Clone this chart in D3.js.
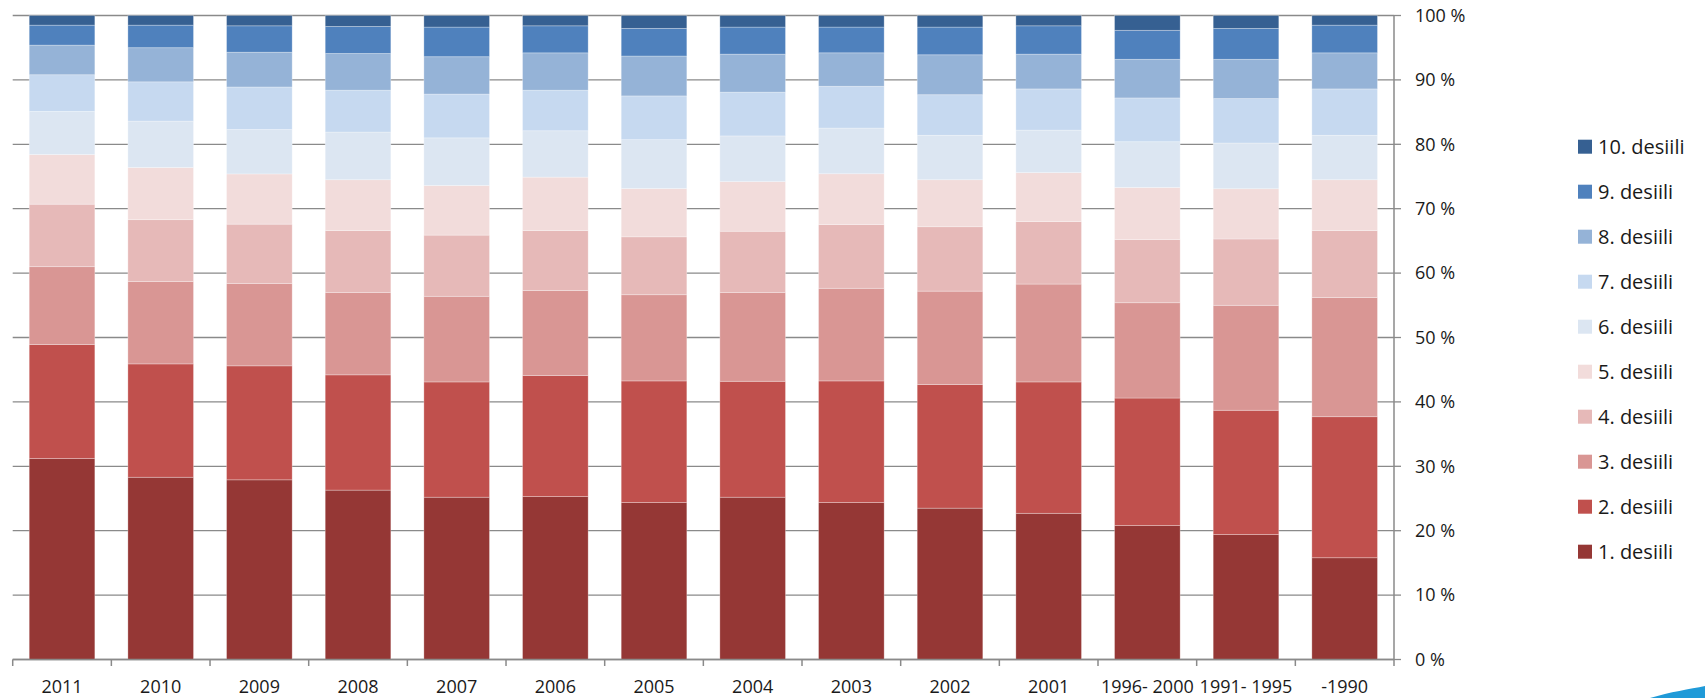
<!DOCTYPE html>
<html>
<head>
<meta charset="utf-8">
<script src="https://cdn.jsdelivr.net/npm/d3@7/dist/d3.min.js"></script>
<style>
  body { margin: 0; background: #fff; }
  text { font-family: "Open Sans", sans-serif; fill: #1a1a1a; }
</style>
</head>
<body>
<svg id="chart" width="1705" height="698"></svg>
<script>
// categories, left to right
var categories = ['2011', '2010', '2009', '2008', '2007', '2006', '2005', '2004',
  '2003', '2002', '2001', '1996- 2000', '1991- 1995', '-1990'];

// share (%) of each decile, one value per category
var d1  = [31.2, 28.3, 27.9, 26.3, 25.2, 25.3, 24.4, 25.2, 24.4, 23.5, 22.7, 20.8, 19.4, 15.8];
var d2  = [17.7, 17.6, 17.7, 17.9, 17.9, 18.8, 18.9, 18.0, 18.9, 19.2, 20.4, 19.8, 19.3, 21.9];
var d3_ = [12.1, 12.8, 12.8, 12.8, 13.3, 13.2, 13.4, 13.8, 14.4, 14.5, 15.2, 14.8, 16.3, 18.5];
var d4  = [9.7, 9.6, 9.2, 9.6, 9.5, 9.3, 9.0, 9.5, 9.9, 10.0, 9.7, 9.8, 10.3, 10.4];
var d5  = [7.7, 8.1, 7.8, 7.9, 7.7, 8.3, 7.5, 7.7, 7.9, 7.3, 7.6, 8.1, 7.8, 7.9];
var d6  = [6.7, 7.2, 6.9, 7.4, 7.4, 7.2, 7.6, 7.1, 7.1, 6.9, 6.6, 7.1, 7.1, 6.9];
var d7  = [5.7, 6.1, 6.6, 6.5, 6.8, 6.3, 6.8, 6.8, 6.5, 6.3, 6.4, 6.8, 6.9, 7.2];
var d8  = [4.6, 5.3, 5.4, 5.7, 5.8, 5.8, 6.2, 5.9, 5.2, 6.2, 5.4, 6.0, 6.1, 5.6];
var d9  = [3.1, 3.5, 4.1, 4.2, 4.6, 4.2, 4.3, 4.2, 4.0, 4.3, 4.4, 4.5, 4.8, 4.3];
var d10 = [1.5, 1.5, 1.6, 1.7, 1.8, 1.6, 2.0, 1.8, 1.8, 1.8, 1.6, 2.3, 2.0, 1.5];

var seriesNames = ['1. desiili', '2. desiili', '3. desiili', '4. desiili', '5. desiili',
  '6. desiili', '7. desiili', '8. desiili', '9. desiili', '10. desiili'];
var seriesValues = [d1, d2, d3_, d4, d5, d6, d7, d8, d9, d10];
var colors = ['#953735', '#c0504d', '#d99694', '#e6b9b8', '#f2dcdb',
  '#dce6f2', '#c6d9f0', '#95b3d7', '#4f81bd', '#366092'];

var yTicks = [0, 0.1, 0.2, 0.3, 0.4, 0.5, 0.6, 0.7, 0.8, 0.9, 1];

var svg = d3.select('#chart');
var plotLeft = 12.7, plotRight = 1394, plotTop = 15.5, plotBottom = 659.5;

var x = d3.scaleBand().domain(categories).range([plotLeft, plotRight]).paddingInner(0.335).paddingOuter(0.1675);
var xb = d3.scaleBand().domain(categories).range([plotLeft, plotRight]);
var y = d3.scaleLinear().domain([0, 1]).range([plotBottom, plotTop]);

// table for the stack
var rows = categories.map(function(c, i) {
  var r = {cat: c};
  seriesNames.forEach(function(s, k) { r[s] = seriesValues[k][i]; });
  return r;
});
var stack = d3.stack().keys(seriesNames).offset(d3.stackOffsetExpand);
var layers = stack(rows);

// gridlines
svg.append('g')
  .selectAll('line')
  .data(yTicks)
  .enter().append('line')
  .attr('x1', plotLeft).attr('x2', plotRight)
  .attr('y1', function(d) { return y(d); })
  .attr('y2', function(d) { return y(d); })
  .attr('stroke', '#8a8a8a')
  .attr('stroke-width', 1.3);

// bars
svg.append('g')
  .selectAll('g')
  .data(layers)
  .enter().append('g')
  .attr('fill', function(d, i) { return colors[i]; })
  .selectAll('rect')
  .data(function(d) { return d; })
  .enter().append('rect')
  .attr('x', function(d) { return x(d.data.cat); })
  .attr('width', x.bandwidth())
  .attr('y', function(d) { return y(d[1]); })
  .attr('height', function(d) { return y(d[0]) - y(d[1]); })
  .attr('stroke', 'rgba(255,255,255,0.35)')
  .attr('stroke-width', 0.8);

// x axis
var xAxis = svg.append('g');
xAxis.append('line')
  .attr('x1', plotLeft).attr('x2', plotRight)
  .attr('y1', plotBottom).attr('y2', plotBottom)
  .attr('stroke', '#8a8a8a').attr('stroke-width', 1.5);
xAxis.selectAll('line.tick')
  .data(categories.concat(['end']))
  .enter().append('line')
  .attr('class', 'tick')
  .attr('x1', function(d, i) { return plotLeft + i * xb.step(); })
  .attr('x2', function(d, i) { return plotLeft + i * xb.step(); })
  .attr('y1', plotBottom).attr('y2', plotBottom + 6.5)
  .attr('stroke', '#8a8a8a').attr('stroke-width', 1.5);
xAxis.selectAll('text')
  .data(categories)
  .enter().append('text')
  .attr('x', function(d) { return xb(d) + xb.bandwidth() / 2; })
  .attr('y', 693)
  .attr('text-anchor', 'middle')
  .attr('font-size', 18)
  .text(function(d) { return d; });

// right y axis
var yAxis = svg.append('g');
yAxis.append('line')
  .attr('x1', plotRight).attr('x2', plotRight)
  .attr('y1', plotTop).attr('y2', plotBottom)
  .attr('stroke', '#8a8a8a').attr('stroke-width', 1.5);
yAxis.selectAll('line.tick')
  .data(yTicks)
  .enter().append('line')
  .attr('class', 'tick')
  .attr('x1', plotRight).attr('x2', plotRight + 7)
  .attr('y1', function(d) { return y(d); })
  .attr('y2', function(d) { return y(d); })
  .attr('stroke', '#8a8a8a').attr('stroke-width', 1.3);
yAxis.selectAll('text')
  .data(yTicks)
  .enter().append('text')
  .attr('x', 1415)
  .attr('y', function(d) { return y(d); })
  .attr('dy', '0.35em')
  .attr('font-size', 18)
  .text(function(d) { return Math.round(d * 100) + ' %'; });

// legend, top item is the 10th decile
var legend = svg.append('g')
  .selectAll('g')
  .data(seriesNames.slice().reverse())
  .enter().append('g')
  .attr('transform', function(d, i) { return 'translate(1578,' + (146.7 + i * 45) + ')'; });
legend.append('rect')
  .attr('x', 0).attr('y', -7)
  .attr('width', 14).attr('height', 14)
  .attr('fill', function(d) { return colors[seriesNames.indexOf(d)]; });
legend.append('text')
  .attr('x', 20)
  .attr('dy', '0.36em')
  .attr('font-size', 20)
  .text(function(d) { return d; });

// corner swoosh
svg.append('path')
  .attr('d', 'M1650,698 C1670,692 1690,689 1705,686 L1705,698 Z')
  .attr('fill', '#1f9ad8');
</script>
</body>
</html>
